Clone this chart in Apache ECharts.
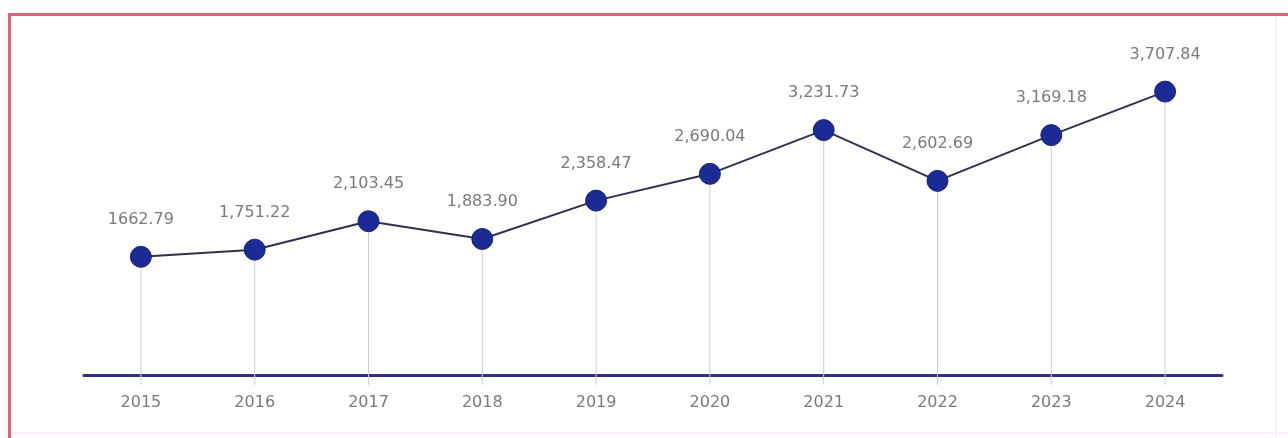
<!DOCTYPE html>
<html>
<head>
<meta charset="utf-8">
<script src="https://cdn.jsdelivr.net/npm/echarts@6/dist/echarts.min.js"></script>
<style>
  html, body { margin: 0; padding: 0; background: #ffffff; }
  #chart { width: 1288px; height: 438px; }
</style>
</head>
<body>
<div id="chart"></div>
<script>
// Yearly totals, 2015–2024
const years = ['2015', '2016', '2017', '2018', '2019', '2020', '2021', '2022', '2023', '2024'];
const values = [1662.79, 1751.22, 2103.45, 1883.90, 2358.47, 2690.04, 3231.73, 2602.69, 3169.18, 3707.84];
const valueLabels = ['1662.79', '1,751.22', '2,103.45', '1,883.90', '2,358.47', '2,690.04', '3,231.73', '2,602.69', '3,169.18', '3,707.84'];

// Value axis range
const yMin = 200;
const yMax = 4000;

const chart = echarts.init(document.getElementById('chart'), null, { renderer: 'canvas' });

const fontFamily = '"DejaVu Sans", "Open Sans", sans-serif';

chart.setOption({
  animation: false,
  backgroundColor: '#ffffff',
  grid: { left: 84, right: 66, top: 68, bottom: 63 },
  xAxis: {
    type: 'category',
    data: years,
    boundaryGap: true,
    axisLine: { show: true, lineStyle: { color: '#2e3185', width: 3 } },
    axisTick: { show: false },
    axisLabel: { color: '#7a7a7a', fontSize: 16, fontFamily: fontFamily, margin: 20 },
    splitLine: { show: false }
  },
  yAxis: {
    type: 'value',
    min: yMin,
    max: yMax,
    show: false,
    splitLine: { show: false }
  },
  graphic: [
    // red frame, top and left edges
    { type: 'rect', shape: { x: 8, y: 13, width: 1280, height: 3 }, style: { fill: '#df6477' }, z: 100 },
    { type: 'rect', shape: { x: 8, y: 13, width: 3, height: 425 }, style: { fill: '#df6477' }, z: 100 },
    // faint inner edges
    { type: 'rect', shape: { x: 1275, y: 16, width: 2, height: 422 }, style: { fill: '#e6fbf8' }, z: 1 },
    { type: 'rect', shape: { x: 11, y: 432, width: 1277, height: 2 }, style: { fill: '#fbeefa' }, z: 1 }
  ],
  series: [
    {
      // thin drop lines from each point to just below the axis
      type: 'custom',
      silent: true,
      z: 1,
      data: values.map((v, i) => [i, v]),
      renderItem: function (params, api) {
        const top = api.coord([api.value(0), api.value(1)]);
        const base = api.coord([api.value(0), yMin]);
        return {
          type: 'line',
          shape: { x1: top[0], y1: top[1], x2: base[0], y2: base[1] + 10 },
          style: { stroke: '#cfcfcf', lineWidth: 1 }
        };
      }
    },
    {
      type: 'line',
      data: values,
      z: 3,
      symbol: 'circle',
      symbolSize: 21,
      itemStyle: { color: '#1c2a96', borderColor: '#17227a', borderWidth: 1 },
      lineStyle: { color: '#2e3150', width: 2 },
      label: {
        show: true,
        position: 'top',
        distance: 18,
        color: '#7a7a7a',
        fontSize: 16,
        fontFamily: fontFamily,
        formatter: function (p) { return valueLabels[p.dataIndex]; }
      }
    }
  ]
});
</script>
</body>
</html>
